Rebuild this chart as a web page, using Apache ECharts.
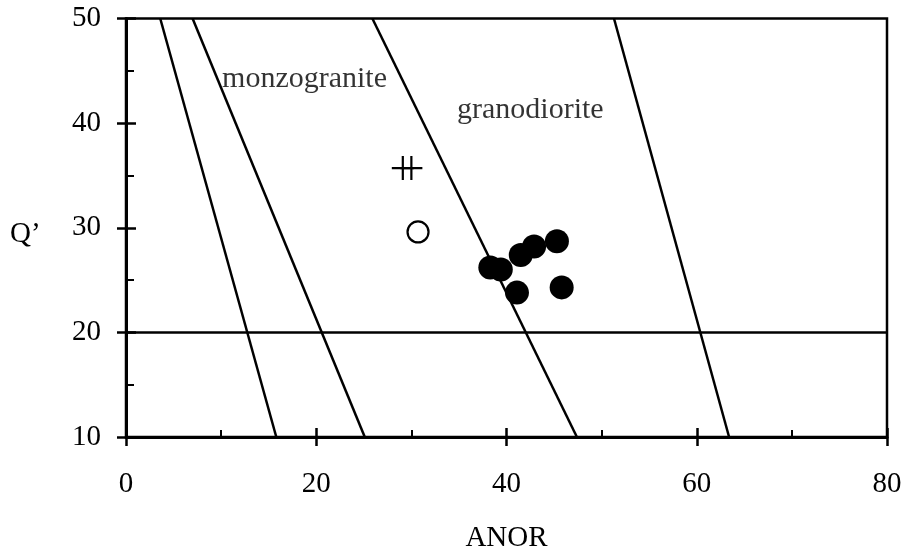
<!DOCTYPE html>
<html>
<head>
<meta charset="utf-8">
<script src="https://cdn.jsdelivr.net/npm/echarts@6/dist/echarts.min.js"></script>
<style>
  html, body { margin: 0; padding: 0; background: #ffffff; }
  #chart { width: 904px; height: 549px; }
</style>
</head>
<body>
<div id="chart"></div>
<script>
// 数据：ANOR - Q' 判别图
const granite = [
  [38.3, 26.2], [39.4, 26.0], [41.5, 27.4], [42.9, 28.2],
  [45.3, 28.7], [41.1, 23.8], [45.8, 24.3]
];
const openPoint = [[30.7, 29.6]];
const crossPoints = [[29.1, 35.7], [30.0, 35.7]];

// 分区边界线（上端 Q'=50，下端 Q'=10）
const boundaryA = [[3.6, 50], [15.8, 10]];
const boundaryB = [[7.0, 50], [25.1, 10]];
const boundaryC = [[25.9, 50], [47.4, 10]];
const boundaryD = [[51.3, 50], [63.4, 10]];
const boundaryQ20 = [[0, 20], [80, 20]];

const fieldLabels = [
  { name: 'monzogranite', value: [10.1, 44.2] },
  { name: 'granodiorite', value: [34.8, 41.2] }
];

const font = 'Liberation Serif, Times New Roman, serif';

const chart = echarts.init(document.getElementById('chart'));

const lineSeries = (data) => ({
  type: 'line',
  data: data,
  symbol: 'none',
  silent: true,
  lineStyle: { color: '#000', width: 2.5 },
  z: 2
});

const option = {
  backgroundColor: '#ffffff',
  animation: false,
  grid: {
    left: 126, right: 17, top: 18.5, bottom: 112,
    outerBoundsMode: 'none',
    containLabel: false,
    show: true,
    borderColor: '#000',
    borderWidth: 2.5
  },
  // y 轴标题
  graphic: [
    {
      type: 'text',
      left: 10,
      top: 220,
      style: { text: 'Q’', font: '29px ' + font, fill: '#000' }
    }
  ],
  xAxis: [
    {
      type: 'value',
      min: 0, max: 80, interval: 20,
      position: 'bottom',
      name: 'ANOR',
      nameLocation: 'middle',
      nameGap: 87,
      nameTextStyle: { fontFamily: font, fontSize: 29, color: '#000' },
      axisLine: { lineStyle: { color: '#000', width: 3 } },
      axisTick: { show: true, inside: false, length: 9, lineStyle: { color: '#000', width: 2.5 } },
      axisLabel: { margin: 33, fontFamily: font, fontSize: 29, color: '#000' },
      splitLine: { show: false }
    },
    {
      type: 'value',
      min: 0, max: 80, interval: 20,
      position: 'bottom',
      axisLine: { show: false },
      axisTick: { show: true, inside: true, length: 9, lineStyle: { color: '#000', width: 2.5 } },
      minorTick: { show: true, splitNumber: 2, length: 7, lineStyle: { color: '#000', width: 2 } },
      axisLabel: { show: false },
      splitLine: { show: false }
    }
  ],
  yAxis: [
    {
      type: 'value',
      min: 10, max: 50, interval: 10,
      position: 'left',
      axisLine: { lineStyle: { color: '#000', width: 3 } },
      axisTick: { show: true, inside: false, length: 9, lineStyle: { color: '#000', width: 2.5 } },
      axisLabel: { margin: 25, fontFamily: font, fontSize: 29, color: '#000' },
      splitLine: { show: false }
    },
    {
      type: 'value',
      min: 10, max: 50, interval: 10,
      position: 'left',
      axisLine: { show: false },
      axisTick: { show: true, inside: true, length: 10, lineStyle: { color: '#000', width: 2.5 } },
      minorTick: { show: true, splitNumber: 2, length: 8, lineStyle: { color: '#000', width: 2 } },
      axisLabel: { show: false },
      splitLine: { show: false }
    }
  ],
  series: [
    lineSeries(boundaryA),
    lineSeries(boundaryB),
    lineSeries(boundaryC),
    lineSeries(boundaryD),
    lineSeries(boundaryQ20),
    {
      type: 'scatter',
      data: granite,
      symbol: 'circle',
      symbolSize: 24,
      itemStyle: { color: '#000', opacity: 1 },
      z: 5
    },
    {
      type: 'scatter',
      data: openPoint,
      symbol: 'circle',
      symbolSize: 21,
      itemStyle: { color: '#fff', borderColor: '#000', borderWidth: 2.2, opacity: 1 },
      z: 5
    },
    {
      type: 'scatter',
      data: crossPoints,
      symbol: 'path://M0,9 L20,9 L20,11 L0,11 Z M9,0 L11,0 L11,20 L9,20 Z',
      symbolSize: [22, 24],
      symbolKeepAspect: false,
      itemStyle: { color: '#000', opacity: 1 },
      z: 5
    },
    {
      type: 'scatter',
      data: fieldLabels,
      symbolSize: 0,
      silent: true,
      label: {
        show: true,
        position: 'right',
        distance: 0,
        formatter: '{b}',
        fontFamily: font,
        fontSize: 30,
        color: '#000'
      },
      z: 6
    }
  ]
};

chart.setOption(option);
</script>
</body>
</html>
